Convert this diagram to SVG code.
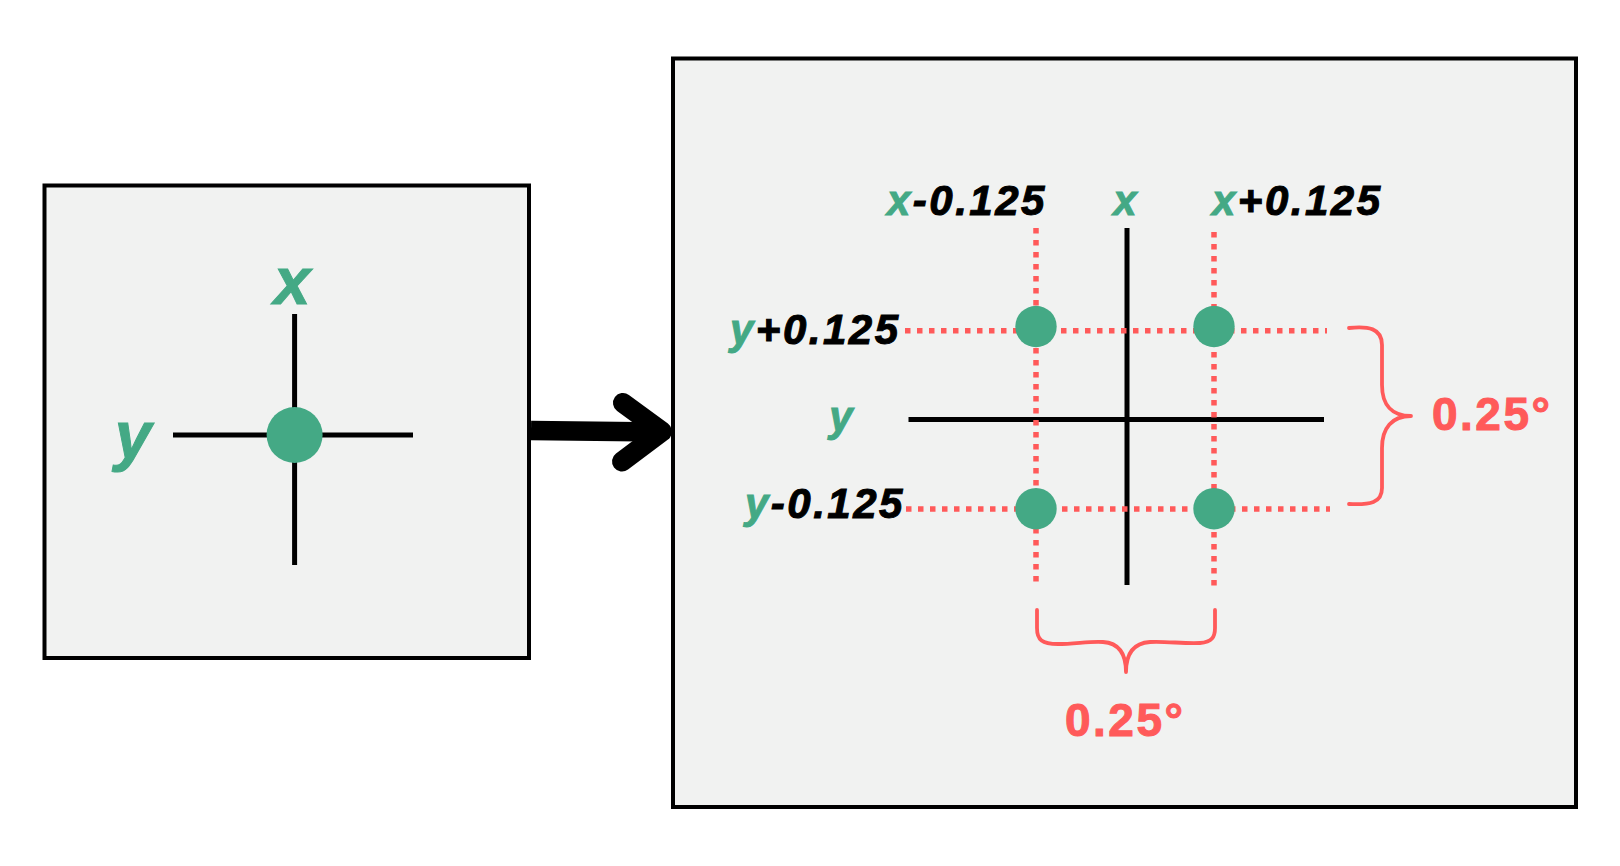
<svg xmlns="http://www.w3.org/2000/svg" width="1620" height="866" viewBox="0 0 1620 866">
<style>
.box{fill:#f1f2f1;stroke:#000;stroke-width:4}
.axis{stroke:#000;stroke-width:5;fill:none}
.dot{stroke:#ff5a5a;stroke-width:5.5;stroke-dasharray:5.5 6.5;fill:none}
.pt{fill:#44a985}
.brace{stroke:#ff5a5a;stroke-width:3.8;fill:none;stroke-linecap:round;stroke-linejoin:round}
.lbl{font-family:"Liberation Sans",Arial,sans-serif;font-weight:bold;font-style:italic;fill:#000;stroke:#000;stroke-width:1}
.g{fill:#44a985;stroke:#44a985}
.red{font-family:"Liberation Sans",Arial,sans-serif;font-weight:bold;fill:#ff5a5a;stroke:#ff5a5a;stroke-width:1;font-size:46px;letter-spacing:2.5px}
</style>
<rect width="1620" height="866" fill="#fff"/>
<g id="left-box">
<rect class="box" x="44.5" y="185.5" width="484.5" height="472.5"/>
<line class="axis" x1="294.6" y1="314" x2="294.6" y2="565"/>
<line class="axis" x1="173" y1="435" x2="413" y2="435"/>
<circle class="pt" cx="294.6" cy="435" r="28"/>
<text class="lbl g" x="292" y="304" font-size="66" text-anchor="middle">x</text>
<text class="lbl g" x="133" y="458" font-size="66" text-anchor="middle">y</text>
</g>
<g id="right-box">
<rect class="box" x="673" y="58.5" width="903" height="748.5"/>
<line class="axis" x1="1127" y1="228" x2="1127" y2="585"/>
<line class="axis" x1="908.5" y1="419.5" x2="1324" y2="419.5"/>
<line class="dot" x1="1036" y1="228" x2="1036" y2="584"/>
<line class="dot" x1="1214" y1="232" x2="1214" y2="586"/>
<line class="dot" x1="905" y1="330.7" x2="1327" y2="330.7"/>
<line class="dot" x1="906" y1="509" x2="1330" y2="509"/>
<circle class="pt" cx="1036" cy="326.5" r="20.7"/>
<circle class="pt" cx="1214" cy="326.5" r="20.7"/>
<circle class="pt" cx="1036" cy="508.7" r="20.7"/>
<circle class="pt" cx="1214" cy="508.7" r="20.7"/>
<g class="lbl" font-size="42" letter-spacing="2.5">
<text x="887" y="215"><tspan class="g">x</tspan>-0.125</text>
<text x="1125" y="215" text-anchor="middle" class="g" letter-spacing="0">x</text>
<text x="1212" y="215"><tspan class="g">x</tspan>+0.125</text>
<text x="730" y="344"><tspan class="g">y</tspan>+0.125</text>
<text x="841" y="431" text-anchor="middle" class="g" letter-spacing="0">y</text>
<text x="745" y="518"><tspan class="g">y</tspan>-0.125</text>
</g>
<path class="brace" d="M1349,328 C1368,326 1382,328 1382,345 L1382,385 C1382,405 1392,416 1411,416 C1392,416 1382,428 1382,448 L1382,488 C1382,503 1370,505 1349,504"/>
<path class="brace" d="M1037,610 L1037,628 C1037,640 1042,644 1058,644 C1075,644 1090,641 1103,642 C1118,643 1126,652 1126,672 C1126,652 1135,643 1150,642 C1165,641 1185,644 1200,643 C1212,642 1215,637 1215,628 L1215,610"/>
<text class="red" x="1432" y="430">0.25°</text>
<text class="red" x="1065" y="735.5">0.25°</text>
</g>
<g id="connectors">
<line x1="531" y1="430.5" x2="660" y2="432" stroke="#000" stroke-width="19.5"/>
<polyline points="623,403 662,431.5 622,461.5" fill="none" stroke="#000" stroke-width="20" stroke-linecap="round" stroke-linejoin="round"/>
</g>
</svg>
